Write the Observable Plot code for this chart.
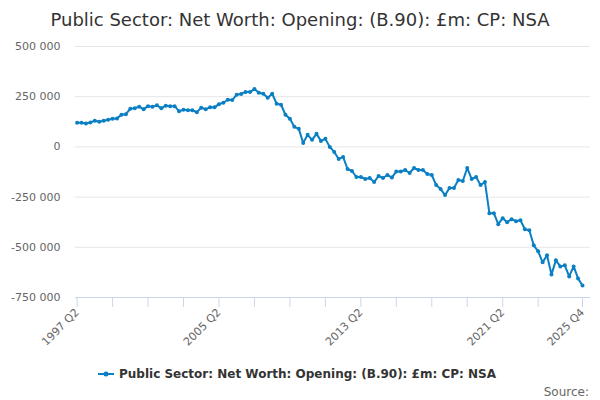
<!DOCTYPE html>
<html>
<head>
<meta charset="utf-8">
<script src="https://cdn.jsdelivr.net/npm/d3@7"></script>
<script src="https://cdn.jsdelivr.net/npm/@observablehq/plot@0.6"></script>
<style>
  html, body { margin: 0; padding: 0; background: #fff; width: 600px; height: 400px; overflow: hidden; font-family: "DejaVu Sans", sans-serif; }
  #title { height: 36px; line-height: 36px; text-align: center; font-size: 18px; color: #333; white-space: nowrap; padding-top: 2px; box-sizing: border-box; }
  #chart svg { display: block; }
  #legend { height: 22px; margin-top: 5px; display: flex; justify-content: center; align-items: center; font-size: 12px; font-weight: bold; color: #333; padding-right: 6px; }
  #legend svg { margin-right: 5px; }
  #source { text-align: right; font-size: 12px; line-height: 14px; color: #666; padding-right: 11px; margin-top: 0px; }
</style>
</head>
<body>
<div id="title"></div>
<div id="chart"></div>
<div id="legend"></div>
<div id="source">Source:</div>
<script>
const seriesName = "Public Sector: Net Worth: Opening: (B.90): £m: CP: NSA";
const startYear = 1997;
const startQuarter = 2;
// Net worth, £m, quarterly from 1997 Q2 to 2025 Q4
const values = [
  120000, 120000, 117000, 122000, 130000, 125000, 130000, 135000, 140000, 142000,
  160000, 163000, 190000, 193000, 200000, 188000, 203000, 200000, 207000, 193000,
  205000, 203000, 203000, 178000, 185000, 182000, 183000, 173000, 195000, 188000,
  197000, 197000, 213000, 220000, 235000, 233000, 260000, 264000, 274000, 273000,
  288000, 270000, 265000, 245000, 265000, 215000, 210000, 160000, 140000, 100000,
  90000, 20000, 60000, 35000, 65000, 30000, 40000, 0, -25000, -60000,
  -50000, -110000, -120000, -150000, -150000, -160000, -155000, -175000, -145000, -155000,
  -140000, -152000, -123000, -123000, -115000, -130000, -105000, -115000, -115000, -135000,
  -140000, -190000, -210000, -240000, -205000, -205000, -165000, -170000, -105000, -160000,
  -150000, -190000, -175000, -330000, -330000, -385000, -355000, -375000, -360000, -370000,
  -365000, -410000, -415000, -490000, -520000, -575000, -540000, -635000, -565000, -595000,
  -590000, -645000, -595000, -655000, -690000
];
const yTicks = [-750000, -500000, -250000, 0, 250000, 500000];
const xTickIndex = [0, 8, 16, 24, 32, 40, 48, 56, 64, 72, 80, 88, 96, 104, 114];
const xLabelIndex = [0, 32, 64, 96, 114];

const quarters = values.map((_, i) => {
  const q = startQuarter - 1 + i;
  return `${startYear + Math.floor(q / 4)} Q${(q % 4) + 1}`;
});
const data = values.map((v, i) => ({i, quarter: quarters[i], value: v}));
const color = "#0a7fc4";
const fmtY = v => d3.format(",")(v).replace(/,/g, " ").replace("−", "-");

document.getElementById("title").textContent = seriesName;

const chart = Plot.plot({
  width: 600,
  height: 322,
  marginTop: 10,
  marginBottom: 61,
  marginLeft: 75,
  marginRight: 10,
  style: {fontFamily: "DejaVu Sans", fontSize: "11px", color: "#666", background: "white", overflow: "visible"},
  x: {domain: [0, values.length - 1], range: [76.6, 582]},
  y: {domain: [-750000, 500000]},
  marks: [
    Plot.ruleY(yTicks, {stroke: "#e6e6e6", strokeWidth: 1}),
    Plot.ruleY([-750000], {stroke: "#ccd6eb", strokeWidth: 1}),
    Plot.axisY({ticks: yTicks, tickSize: 0, tickPadding: 15, tickFormat: fmtY, fill: "#666", label: null}),
    Plot.axisX({
      ticks: xTickIndex,
      tickSize: 10,
      tickPadding: 3,
      stroke: "#ccd6eb",
      fill: "#666",
      tickRotate: -45,
      tickFormat: i => xLabelIndex.includes(i) ? quarters[i] : "",
      label: null
    }),
    Plot.line(data, {x: "i", y: "value", stroke: color, strokeWidth: 2}),
    Plot.dot(data, {x: "i", y: "value", r: 2, fill: color, stroke: "none"})
  ]
});
document.getElementById("chart").appendChild(chart);

const legend = document.getElementById("legend");
legend.innerHTML = `<svg width="16" height="10"><line x1="0" y1="5" x2="16" y2="5" stroke="${color}" stroke-width="2"/><circle cx="8" cy="5" r="2.5" fill="${color}"/></svg><span>${seriesName}</span>`;
</script>
</body>
</html>
